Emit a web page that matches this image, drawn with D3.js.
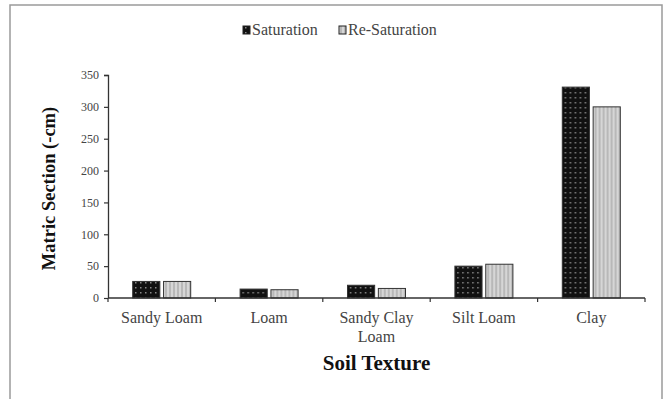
<!DOCTYPE html>
<html>
<head>
<meta charset="utf-8">
<script src="https://cdn.jsdelivr.net/npm/d3@7"></script>
<style>
  html, body { margin: 0; padding: 0; background: #fff; }
  svg { display: block; }
</style>
</head>
<body>
<svg id="chart" width="666" height="399"></svg>
<script>
// Matric suction by soil texture, after saturation and re-saturation
const categories = [["Sandy Loam"], ["Loam"], ["Sandy Clay", "Loam"], ["Silt Loam"], ["Clay"]];
const seriesNames = ["Saturation", "Re-Saturation"];
const saturation = [26, 14, 20, 50, 331];
const reSaturation = [26, 13, 15, 53, 300];
const yTicks = [0, 50, 100, 150, 200, 250, 300, 350];

const SERIF = "'Liberation Serif', 'Times New Roman', Times, serif";

const svg = d3.select("#chart");
const W = 666, H = 399;
const margin = { left: 108, right: 21, top: 75, bottom: 101 };
const plotW = W - margin.left - margin.right;
const plotH = H - margin.top - margin.bottom;

// patterns for the two series
const defs = svg.append("defs");
const pDots = defs.append("pattern").attr("id", "pat-sat")
  .attr("patternUnits", "userSpaceOnUse").attr("width", 5).attr("height", 5);
pDots.append("rect").attr("width", 5).attr("height", 5).attr("fill", "#111");
pDots.append("rect").attr("x", 2).attr("y", 2).attr("width", 1.5).attr("height", 1.5).attr("fill", "#888");

const pStripes = defs.append("pattern").attr("id", "pat-resat")
  .attr("patternUnits", "userSpaceOnUse").attr("width", 4).attr("height", 4);
pStripes.append("rect").attr("width", 4).attr("height", 4).attr("fill", "#d6d6d6");
pStripes.append("rect").attr("x", 1.5).attr("width", 1).attr("height", 4).attr("fill", "#9a9a9a");

const fills = ["url(#pat-sat)", "url(#pat-resat)"];

// outer frame
svg.append("rect").attr("x", 10).attr("y", 5).attr("width", 652).attr("height", 404)
  .attr("fill", "none").attr("stroke", "#9a9a9a").attr("stroke-width", 1.5);

const g = svg.append("g").attr("transform", `translate(${margin.left},${margin.top})`);

const x0 = d3.scaleBand().domain(d3.range(categories.length)).range([0, plotW]).paddingInner(0).paddingOuter(0);
const x1 = d3.scaleBand().domain([0, 1]).range([x0.bandwidth() / 2 - 29, x0.bandwidth() / 2 + 29]).paddingInner(0.12);
const y = d3.scaleLinear().domain([0, 350]).range([plotH, 0]);

// bars
const data = categories.map((c, i) => [saturation[i], reSaturation[i]]);
const groups = g.selectAll("g.cat").data(data).join("g").attr("class", "cat")
  .attr("transform", (d, i) => `translate(${x0(i)},0)`);
groups.selectAll("rect").data(d => d).join("rect")
  .attr("x", (d, j) => x1(j))
  .attr("width", x1.bandwidth())
  .attr("y", d => y(d))
  .attr("height", d => y(0) - y(d))
  .attr("fill", (d, j) => fills[j])
  .attr("stroke", "#333").attr("stroke-width", 1);

// y axis
const yAxis = d3.axisLeft(y).tickValues(yTicks).tickSize(4).tickPadding(5);
const gy = g.append("g").call(yAxis).attr("font-family", SERIF).attr("font-size", 12);
gy.select(".domain").attr("stroke", "#333").attr("stroke-width", 1.3).attr("d", `M-4,0.5H0.5V${plotH}`);
gy.selectAll(".tick line").attr("stroke", "#333").attr("stroke-width", 1.2);
gy.selectAll(".tick text").attr("fill", "#444");

// x axis with ticks at category boundaries
const gx = g.append("g").attr("transform", `translate(0,${plotH})`);
gx.append("line").attr("x1", 0).attr("x2", plotW).attr("stroke", "#333").attr("stroke-width", 1.3);
const bounds = d3.range(categories.length + 1).map(i => i < categories.length ? x0(i) : plotW);
gx.selectAll("line.tk").data(bounds).join("line").attr("class", "tk")
  .attr("x1", d => d).attr("x2", d => d).attr("y1", 0).attr("y2", 4)
  .attr("stroke", "#333").attr("stroke-width", 1.2);
gx.selectAll("text.lbl").data(categories).join("text").attr("class", "lbl")
  .attr("x", (d, i) => x0(i) + x0.bandwidth() / 2)
  .attr("y", 25)
  .attr("text-anchor", "middle").attr("font-family", SERIF).attr("font-size", 16).attr("fill", "#444")
  .selectAll("tspan").data(d => d).join("tspan")
  .attr("x", function () { return d3.select(this.parentNode).attr("x"); })
  .attr("dy", (d, k) => k === 0 ? 0 : 19)
  .text(d => d);

// axis titles
svg.append("text").attr("x", margin.left + plotW / 2).attr("y", 370)
  .attr("text-anchor", "middle").attr("font-family", SERIF).attr("font-size", 21).attr("font-weight", "bold").attr("fill", "#111")
  .text("Soil Texture");
svg.append("text").attr("transform", `translate(55,${margin.top + plotH / 2 + 2}) rotate(-90)`)
  .attr("text-anchor", "middle").attr("font-family", SERIF).attr("font-size", 18.5).attr("font-weight", "bold").attr("fill", "#111")
  .text("Matric Section (-cm)");

// legend
const legend = svg.append("g").attr("transform", "translate(243,30)");
const legendX = [0, 96];
seriesNames.forEach((name, i) => {
  const lg = legend.append("g").attr("transform", `translate(${legendX[i]},0)`);
  lg.append("rect").attr("x", 0).attr("y", -4).attr("width", 7).attr("height", 8)
    .attr("fill", fills[i]).attr("stroke", "#222").attr("stroke-width", 1);
  lg.append("text").attr("x", 9).attr("y", 5).attr("font-family", SERIF).attr("font-size", 16)
    .attr("fill", "#444").text(name);
});
</script>
</body>
</html>
